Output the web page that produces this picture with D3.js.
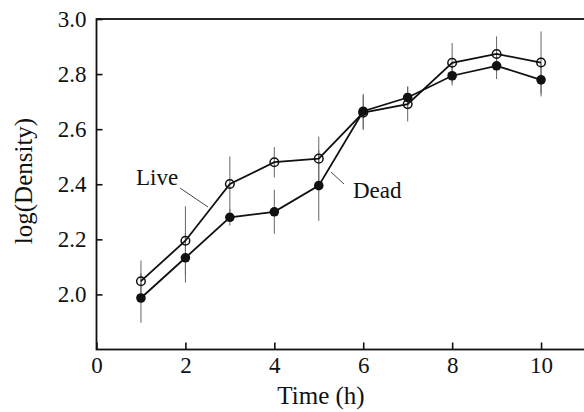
<!DOCTYPE html>
<html><head><meta charset="utf-8">
<script src="https://cdn.jsdelivr.net/npm/d3@7"></script>
<style>body{margin:0;background:#fff}svg{display:block}text{font-family:"Liberation Serif","Times New Roman",serif;fill:#111}</style>
</head><body>
<svg id="c" width="584" height="412"></svg>
<script>
const times = [1,2,3,4,5,6,7,8,9,10];
const liveValues = [2.048,2.195,2.401,2.480,2.493,2.660,2.691,2.841,2.873,2.842];
const liveErrors = [0.075,0.125,0.100,0.055,0.080,0.063,0.063,0.072,0.064,0.113];
const deadValues = [1.987,2.133,2.280,2.300,2.395,2.665,2.715,2.794,2.830,2.779];
const deadErrors = [0.090,0.090,0.030,0.080,0.128,0.063,0.040,0.035,0.048,0.060];
const xTicks = [0,2,4,6,8,10];
const yTicks = [2.0,2.2,2.4,2.6,2.8,3.0];

const svg = d3.select("#c");
const x = d3.scaleLinear().domain([0,11]).range([96.5,585.5]);
const y = d3.scaleLinear().domain([1.8,3.0]).range([349.5,19]);

// frame
svg.append("rect").attr("x",x(0)).attr("y",y(3.0)).attr("width",x(11)-x(0)).attr("height",y(1.8)-y(3.0))
  .attr("fill","none").attr("stroke","#111").attr("stroke-width",1.8);

// y axis
const ya = svg.append("g").attr("transform",`translate(${x(0)},0)`)
  .call(d3.axisLeft(y).tickValues(yTicks).tickFormat(d3.format(".1f")).tickSize(-6).tickPadding(10));
ya.select(".domain").remove();
ya.selectAll("line").attr("stroke","#111").attr("stroke-width",1.6);
ya.selectAll("text").style("font-size","23px").attr("fill","#111");

// x axis
const xa = svg.append("g").attr("transform",`translate(0,${y(1.8)})`)
  .call(d3.axisBottom(x).tickValues(xTicks).tickFormat(d3.format("d")).tickSize(-7).tickPadding(7));
xa.select(".domain").remove();
xa.selectAll("line").attr("stroke","#111").attr("stroke-width",1.6);
xa.selectAll("text").style("font-size","23px").attr("fill","#111");

// axis titles
svg.append("text").attr("x",321).attr("y",404).attr("text-anchor","middle").style("font-size","25px").text("Time (h)");
svg.append("text").attr("transform","translate(32,181) rotate(-90)").attr("text-anchor","middle").style("font-size","25px").text("log(Density)");

const live = times.map((t,i)=>({t,v:liveValues[i],e:liveErrors[i]}));
const dead = times.map((t,i)=>({t,v:deadValues[i],e:deadErrors[i]}));

// error bars
[live,dead].forEach(s=>{
  svg.append("g").selectAll("line").data(s).join("line")
    .attr("x1",d=>x(d.t)).attr("x2",d=>x(d.t))
    .attr("y1",d=>y(d.v+d.e)).attr("y2",d=>y(d.v-d.e))
    .attr("stroke","#666").attr("stroke-width",1);
});

const line = d3.line().x(d=>x(d.t)).y(d=>y(d.v));
svg.append("path").datum(live).attr("d",line).attr("fill","none").attr("stroke","#111").attr("stroke-width",1.8);
svg.append("path").datum(dead).attr("d",line).attr("fill","none").attr("stroke","#111").attr("stroke-width",1.8);

svg.append("g").selectAll("circle").data(dead).join("circle")
  .attr("cx",d=>x(d.t)).attr("cy",d=>y(d.v)).attr("r",4.8).attr("fill","#111");
svg.append("g").selectAll("circle").data(live).join("circle")
  .attr("cx",d=>x(d.t)).attr("cy",d=>y(d.v)).attr("r",4.3).attr("fill","none").attr("stroke","#111").attr("stroke-width",1.5);

// labels with leader lines
svg.append("text").attr("x",136).attr("y",185).style("font-size","23px").text("Live");
svg.append("line").attr("x1",180).attr("y1",188).attr("x2",208).attr("y2",207).attr("stroke","#333").attr("stroke-width",0.9);
svg.append("text").attr("x",353).attr("y",198).style("font-size","23px").text("Dead");
svg.append("line").attr("x1",331).attr("y1",172).attr("x2",344).attr("y2",184).attr("stroke","#333").attr("stroke-width",0.9);
</script>
</body></html>
